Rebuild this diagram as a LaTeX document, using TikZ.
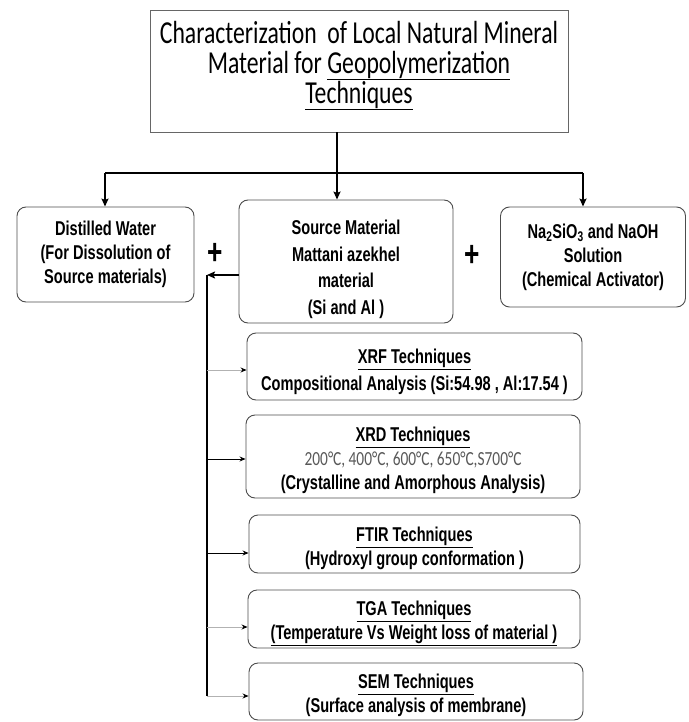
\documentclass[tikz,border=0pt]{standalone}
\usepackage{fontspec}
\setmainfont{Liberation Sans}
\newfontfamily\narrowfont[FakeStretch=0.73]{Liberation Sans}
\newfontfamily\titlefont[FakeStretch=0.74]{Carlito}
\newfontfamily\tempfont[FakeStretch=0.77]{Carlito}
\usetikzlibrary{arrows.meta,calc}
\newcommand{\pushdown}[1]{\mbox{}\\[#1]}

\tikzset{
  box/.style={draw=black!70, line width=0.9pt, rounded corners=9pt, align=center, inner sep=0pt,
    font=\narrowfont\bfseries\fontsize{20}{24}\selectfont},
  feed/.style={line width=2.4pt, -{Stealth[length=8pt,width=7pt,inset=1.5pt]}},
  branch/.style={line width=0.8pt, -{Stealth[length=6pt,width=5pt,color=black]}},
  plus/.style={font=\narrowfont\bfseries\fontsize{36}{36}\selectfont, inner sep=0pt},
}

\begin{document}
\begin{tikzpicture}[x=1pt,y=-1pt]
\useasboundingbox (0,0) rectangle (688,722);

\node[draw=black!60, line width=0.8pt, minimum width=418pt, minimum height=122pt, inner sep=0pt, align=center,
  font=\titlefont\fontsize{32}{30}\selectfont] (title) at (359,71)
  {Characterization\ \ of Local Natural Mineral\\Material for \underline{Geopolymerization}\\\underline{Techniques}\\[-12pt]\mbox{}};

\node[box, minimum width=177pt, minimum height=95pt] (water) at (105.5,254.5)
  {Distilled Water\\(For Dissolution of\\Source materials)};
\node[box, minimum width=214pt, minimum height=123pt, font=\narrowfont\bfseries\fontsize{20}{26.5}\selectfont] (source) at (346,261.5)
  {\pushdown{4pt}Source Material\\Mattani azekhel\\material\\(Si and Al )};
\node[box, minimum width=185pt, minimum height=100pt] (activator) at (593,257)
  {Na\textsubscript{2}SiO\textsubscript{3} and NaOH\\Solution\\(Chemical Activator)};

\node[plus] (plusa) at (215,254) {+};
\node[plus] (plusb) at (472,256) {+};

\node[box, minimum width=335pt, minimum height=67pt, font=\narrowfont\bfseries\fontsize{20}{27}\selectfont] (xrf) at (414.5,366.5)
  {\pushdown{-1pt}\underline{XRF Techniques}\\Compositional Analysis (Si:54.98 , Al:17.54 )};
\node[box, minimum width=334pt, minimum height=83pt] (xrd) at (413,456.5)
  {\pushdown{-1pt}\underline{XRD Techniques}\\{\tempfont\mdseries\color{black!65}200°C, 400°C, 600°C, 650°C,S700°C}\\(Crystalline and Amorphous Analysis)};
\node[box, minimum width=331pt, minimum height=58pt] (ftir) at (414.5,544)
  {\pushdown{-1pt}\underline{FTIR Techniques}\\(Hydroxyl group conformation )};
\node[box, minimum width=332pt, minimum height=58pt] (tga) at (414,619)
  {\pushdown{-1pt}\underline{TGA Techniques}\\\underline{(Temperature Vs Weight loss of material )}};
\node[box, minimum width=334pt, minimum height=57pt] (sem) at (416,691.5)
  {\pushdown{-1pt}\underline{SEM Techniques}\\(Surface analysis of membrane)};

\coordinate (hub) at (337,173);
\coordinate (lbar) at (105,173);
\coordinate (rbar) at (583,173);
\draw[feed] (title.south -| hub) -- (source.north -| hub);
\draw[line width=2.4pt] (lbar) -- (rbar);
\draw[feed] (lbar) -- (water.north -| lbar);
\draw[feed] (rbar) -- (activator.north -| rbar);

\coordinate (spine) at (207,275);
\coordinate (spinebot) at (207,696);
\draw[feed] ($(source.west)+(0,13.5)$) -- (spine);
\draw[line width=2.6pt] (spine) -- (spinebot);

\foreach \b/\dy/\c in {xrf/3.5/black!30, xrd/2.5/black, ftir/9/black, tga/8/black!30, sem/4.5/black!30} {
  \path ($(\b.west)+(0,\dy)$) coordinate (\b-in);
  \draw[branch,\c] (spine |- \b-in) -- (\b-in);
}

\end{tikzpicture}
\end{document}
